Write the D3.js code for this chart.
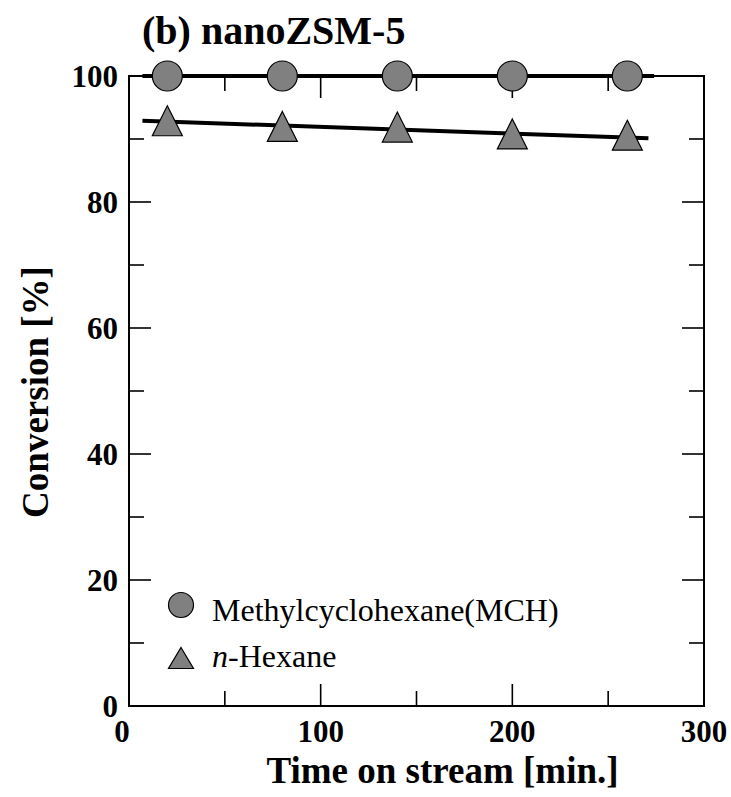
<!DOCTYPE html>
<html>
<head>
<meta charset="utf-8">
<script src="https://cdn.jsdelivr.net/npm/d3@7"></script>
<style>
  html, body { margin: 0; padding: 0; background: #fff; }
  svg { display: block; }
  text { font-family: "Liberation Serif", "Times New Roman", serif; }
</style>
</head>
<body>
<svg id="chart" width="731" height="797"></svg>
<script>
// ---- data ----
const timeMin = [20, 80, 140, 200, 260];
const mchConv = [100, 100, 100, 100, 100];
const hexConv = [92.9, 92.0, 91.9, 90.8, 90.6];
const fitTime = [7, 274];
const fitMCH = [100, 100];
const fitTimeHex = [7, 271];
const fitHex = [92.9, 90.1];
const xMajorTicks = [0, 100, 200, 300];
const xMinorTicks = [50, 150, 250];
const yMajorTicks = [0, 20, 40, 60, 80, 100];
const yMinorTicks = [10, 30, 50, 70, 90];
const seriesNames = ["Methylcyclohexane(MCH)", "-Hexane"];
const titleText = "(b) nanoZSM-5";
const xLabel = "Time on stream [min.]";
const yLabel = "Conversion [%]";

// ---- layout ----
const L = 129, R = 704, T = 76, B = 706;
const svg = d3.select("#chart");
const x = d3.scaleLinear().domain([0, 300]).range([L, R]);
const y = d3.scaleLinear().domain([0, 100]).range([B, T]);
const markerFill = "#808080";

// frame
svg.append("rect").attr("x", L).attr("y", T).attr("width", R - L).attr("height", B - T)
  .attr("fill", "none").attr("stroke", "#000").attr("stroke-width", 2);

const majorLen = 22, minorLen = 15;
const tickG = svg.append("g").attr("stroke", "#000").attr("stroke-width", 1.6);
function xTicks(vals, len) {
  vals.forEach(v => {
    tickG.append("line").attr("x1", x(v)).attr("x2", x(v)).attr("y1", B).attr("y2", B - len);
    tickG.append("line").attr("x1", x(v)).attr("x2", x(v)).attr("y1", T).attr("y2", T + len);
  });
}
function yTicks(vals, len) {
  vals.forEach(v => {
    tickG.append("line").attr("y1", y(v)).attr("y2", y(v)).attr("x1", L).attr("x2", L + len);
    tickG.append("line").attr("y1", y(v)).attr("y2", y(v)).attr("x1", R).attr("x2", R - len);
  });
}
xTicks(xMajorTicks.filter(v => v > 0 && v < 300), majorLen);
xTicks(xMinorTicks, minorLen);
yTicks(yMajorTicks.filter(v => v > 0 && v < 100), majorLen);
yTicks(yMinorTicks, minorLen);

// tick labels
svg.append("g").selectAll("text").data(xMajorTicks).join("text")
  .attr("x", d => x(d) + (d === 0 ? -7 : 0)).attr("y", 742)
  .attr("text-anchor", "middle").attr("font-weight", "bold").attr("font-size", 31)
  .text(d => d);
svg.append("g").selectAll("text").data(yMajorTicks).join("text")
  .attr("x", 118).attr("y", d => y(d) + 11)
  .attr("text-anchor", "end").attr("font-weight", "bold").attr("font-size", 31)
  .text(d => d);

// axis titles
svg.append("text").attr("x", (L + R) / 2 + 26).attr("y", 783)
  .attr("text-anchor", "middle").attr("font-weight", "bold").attr("font-size", 37)
  .text(xLabel);
svg.append("text").attr("transform", "translate(48,392) rotate(-90)")
  .attr("text-anchor", "middle").attr("font-weight", "bold").attr("font-size", 37)
  .text(yLabel);
svg.append("text").attr("x", 142).attr("y", 44)
  .attr("font-weight", "bold").attr("font-size", 40)
  .text(titleText);

// fit lines
const line = d3.line().x(d => x(d[0])).y(d => y(d[1]));
svg.append("path").datum(fitTime.map((t, i) => [t, fitMCH[i]]))
  .attr("d", line).attr("fill", "none").attr("stroke", "#000").attr("stroke-width", 4);
svg.append("path").datum(fitTimeHex.map((t, i) => [t, fitHex[i]]))
  .attr("d", line).attr("fill", "none").attr("stroke", "#000").attr("stroke-width", 4);

// markers
function triPath(cx, cy, hw, hh) {
  return `M${cx},${cy - hh}L${cx + hw},${cy + hh}L${cx - hw},${cy + hh}Z`;
}
svg.append("g").selectAll("circle").data(timeMin.map((t, i) => [t, mchConv[i]])).join("circle")
  .attr("cx", d => x(d[0])).attr("cy", d => y(d[1])).attr("r", 15)
  .attr("fill", markerFill).attr("stroke", "#000").attr("stroke-width", 1.2);
svg.append("g").selectAll("path").data(timeMin.map((t, i) => [t, hexConv[i]])).join("path")
  .attr("d", d => triPath(x(d[0]), y(d[1]), 15, 15))
  .attr("fill", markerFill).attr("stroke", "#000").attr("stroke-width", 1.2);

// legend
svg.append("circle").attr("cx", 181).attr("cy", 605).attr("r", 12.5)
  .attr("fill", markerFill).attr("stroke", "#000").attr("stroke-width", 1.2);
svg.append("text").attr("x", 212).attr("y", 621).attr("font-size", 32).text(seriesNames[0]);
svg.append("path").attr("d", triPath(181, 658, 12.5, 10.5))
  .attr("fill", markerFill).attr("stroke", "#000").attr("stroke-width", 1.2);
const t2 = svg.append("text").attr("x", 212).attr("y", 667).attr("font-size", 32);
t2.append("tspan").attr("font-style", "italic").text("n");
t2.append("tspan").text(seriesNames[1]);
</script>
</body>
</html>
